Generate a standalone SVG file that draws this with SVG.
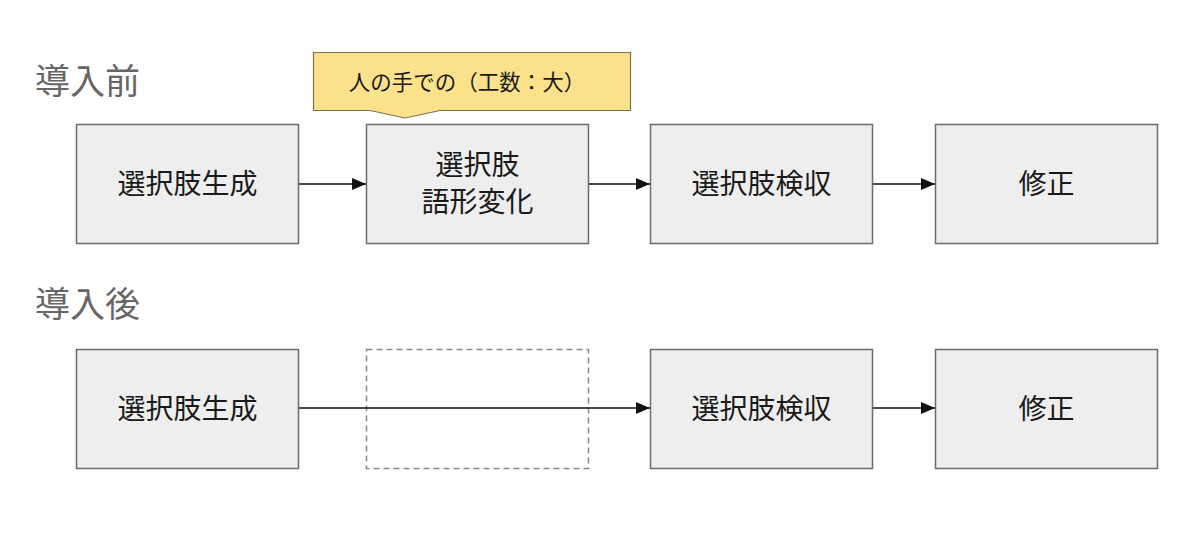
<svg xmlns="http://www.w3.org/2000/svg" width="1200" height="534" viewBox="0 0 1200 534">
<defs>
<style>
.box{fill:#eeeeee;stroke:#6b6b6b;stroke-width:1.5}
.t{font-family:"Noto Sans CJK JP","Noto Sans",sans-serif;font-size:28px;fill:#1a1a1a;text-anchor:middle}
.h{font-family:"Noto Sans CJK JP","Noto Sans",sans-serif;font-size:35px;fill:#666}
.c{stroke:#111;stroke-width:1.6;fill:none;marker-end:url(#ah)}
</style>
<marker id="ah" markerWidth="14" markerHeight="12" refX="14" refY="6" orient="auto" markerUnits="userSpaceOnUse">
<path d="M0,0 L14,6 L0,12 Z" fill="#111"/>
</marker>
</defs>
<rect width="1200" height="534" fill="#fff"/>
<text class="h" x="35" y="94">導入前</text>
<text class="h" x="35" y="317">導入後</text>
<g id="callout">
<path d="M313.5,52.5 H630.5 V110.5 H440 L405,118 L370,110.5 H313.5 Z" fill="#fde18b" stroke="#7a6f50" stroke-width="1.2"/>
<text x="467" y="90" font-family="Noto Sans CJK JP,Noto Sans,sans-serif" font-size="21.5" fill="#1a1a1a" text-anchor="middle">人の手での（工数：大）</text>
</g>
<g id="n1"><rect class="box" x="76.5" y="124.5" width="222" height="119"/><text class="t" x="187.5" y="194">選択肢生成</text></g>
<g id="n2"><rect class="box" x="366.5" y="124.5" width="222" height="119"/><text class="t" x="477.5" y="175">選択肢</text><text class="t" x="477.5" y="212">語形変化</text></g>
<g id="n3"><rect class="box" x="650.5" y="124.5" width="222" height="119"/><text class="t" x="761.5" y="194">選択肢検収</text></g>
<g id="n4"><rect class="box" x="935.5" y="124.5" width="222" height="119"/><text class="t" x="1046.5" y="194">修正</text></g>
<g id="m1"><rect class="box" x="76.5" y="349.5" width="222" height="119"/><text class="t" x="187.5" y="419">選択肢生成</text></g>
<g id="m2"><rect x="366.5" y="349.5" width="222" height="119" fill="none" stroke="#888" stroke-width="1.5" stroke-dasharray="6,4"/></g>
<g id="m3"><rect class="box" x="650.5" y="349.5" width="222" height="119"/><text class="t" x="761.5" y="419">選択肢検収</text></g>
<g id="m4"><rect class="box" x="935.5" y="349.5" width="222" height="119"/><text class="t" x="1046.5" y="419">修正</text></g>
<g id="connectors">
<line class="c" x1="299" y1="184" x2="366" y2="184"/>
<line class="c" x1="589" y1="184" x2="650" y2="184"/>
<line class="c" x1="873" y1="184" x2="935" y2="184"/>
<line class="c" x1="299" y1="408" x2="650" y2="408"/>
<line class="c" x1="873" y1="408" x2="935" y2="408"/>
</g>
</svg>
